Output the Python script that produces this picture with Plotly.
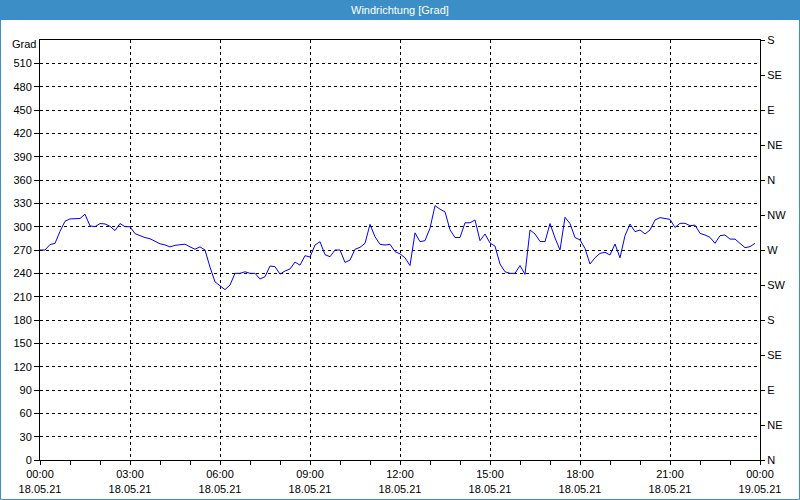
import pandas as pd
import plotly.graph_objects as go

# ---- data (10-minute wind direction readings, degrees) ----
start_time = "2021-05-18 00:00"
n_points = 144
direction = [
    270, 270, 277, 278.5, 294, 307, 310, 310, 310.5, 316,
    301, 300, 304, 303.5, 300.5, 295, 304, 300, 300, 291,
    288, 286, 284.5, 281, 278, 276.5, 274, 276, 276.4, 277.5,
    274, 271, 274, 270, 248, 229, 224, 219, 225, 240,
    240, 242, 240, 240, 232.7, 235.7, 249.4, 248.6, 239, 243,
    245.6, 254.5, 250.5, 262.7, 261, 276.4, 280.7, 264, 261.4, 270,
    270, 254, 257, 271, 273.4, 278.6, 303, 287, 277.3, 276.4,
    277.3, 268, 265, 260, 250, 292, 280.7, 282, 298, 327,
    322.5, 319, 296, 286, 286, 305, 305, 308.6, 282, 290.6,
    279, 275, 252, 242, 240, 240, 250, 238.7, 295.7, 290.6,
    281, 280.7, 304, 285.5, 270, 312, 304, 286, 283, 272,
    252, 260, 265.7, 267, 263.6, 277.7, 260, 288.4, 303.4, 293.6,
    295.7, 290.6, 295.7, 308.6, 311.6, 310.7, 309.4, 299, 304.3, 304.3,
    301.3, 302, 291.4, 289.3, 286.3, 278.6, 288.4, 289.3, 284, 284,
    278.6, 273, 274.3, 278.6,
]
times = pd.date_range(start_time, periods=n_points, freq="10min")

x_tickvals = pd.date_range("2021-05-18 00:00", "2021-05-19 00:00", freq="3h")
x_ticktext = [f"{t:%H:%M}<br>{t:%d.%m.%y}" for t in x_tickvals]
left_tickvals = list(range(0, 511, 30))
compass_vals = list(range(0, 541, 45))
compass_text = ["N", "NE", "E", "SE", "S", "SW", "W", "NW", "N", "NE", "E", "SE", "S"]

title_text = "Windrichtung [Grad]"
unit_text = "Grad"

# ---- figure ----
W, H = 800, 500
ML, MR, MT, MB = 40, 40, 40, 40
PW, PH = W - ML - MR, H - MT - MB
BLUE = "#3c8fc6"
FONT = "Liberation Sans"


def px_x(p):
    return (p - ML) / PW


def px_y(p):
    return (H - MB - p) / PH


fig = go.Figure()
fig.add_trace(go.Scatter(
    x=times, y=direction, mode="lines",
    line=dict(color="#0000ff", width=1),
    showlegend=False, hoverinfo="skip",
))
fig.add_trace(go.Scatter(
    x=[times[0]], y=[None], yaxis="y2", mode="lines",
    showlegend=False, hoverinfo="skip",
))

grid_common = dict(gridcolor="black", gridwidth=1, griddash="3px,3px")

fig.update_layout(
    width=W, height=H,
    margin=dict(l=ML, r=MR, t=MT, b=MB, pad=0, autoexpand=False),
    paper_bgcolor="white", plot_bgcolor="white",
    font=dict(family=FONT, size=11, color="black"),
    xaxis=dict(
        range=[x_tickvals[0], x_tickvals[-1]], automargin=False,
        tickmode="array", tickvals=x_tickvals, ticktext=x_ticktext,
        ticks="outside", ticklen=4, tickcolor="black",
        showline=True, linecolor="black", linewidth=1, mirror=True,
        showgrid=True, **grid_common,
        minor=dict(ticks="outside", ticklen=4, tickcolor="black",
                   dtick=3600000, tick0="2021-05-18", showgrid=False),
        zeroline=False, fixedrange=True,
    ),
    yaxis=dict(
        range=[0, 540], automargin=False,
        tickmode="array", tickvals=left_tickvals,
        ticks="outside", ticklen=5, tickcolor="black",
        showline=True, linecolor="black", linewidth=1, mirror=True,
        showgrid=True, **grid_common,
        zeroline=False, fixedrange=True,
    ),
    yaxis2=dict(
        range=[0, 540], overlaying="y", side="right", automargin=False,
        tickmode="array", tickvals=compass_vals, ticktext=compass_text,
        ticks="outside", ticklen=4, tickcolor="black",
        showline=True, linecolor="black", linewidth=1,
        showgrid=False, zeroline=False, fixedrange=True,
    ),
    shapes=[
        dict(type="rect", xref="paper", yref="paper", layer="above",
             x0=px_x(0), x1=px_x(W), y0=px_y(20), y1=px_y(0),
             fillcolor=BLUE, line=dict(width=0)),
        dict(type="rect", xref="paper", yref="paper", layer="above",
             x0=px_x(0.5), x1=px_x(W - 0.5), y0=px_y(H - 0.5), y1=px_y(0.5),
             fillcolor="rgba(0,0,0,0)", line=dict(color=BLUE, width=1)),
    ],
    annotations=[
        dict(text=title_text, xref="paper", yref="paper",
             x=px_x(W / 2), y=px_y(10), xanchor="center", yanchor="middle",
             showarrow=False, font=dict(family=FONT, size=11, color="white")),
        dict(text=unit_text, xref="paper", yref="paper",
             x=px_x(38), y=px_y(44), xanchor="right", yanchor="middle",
             showarrow=False, font=dict(family=FONT, size=11, color="black")),
    ],
)

fig.write_html("out.html")
